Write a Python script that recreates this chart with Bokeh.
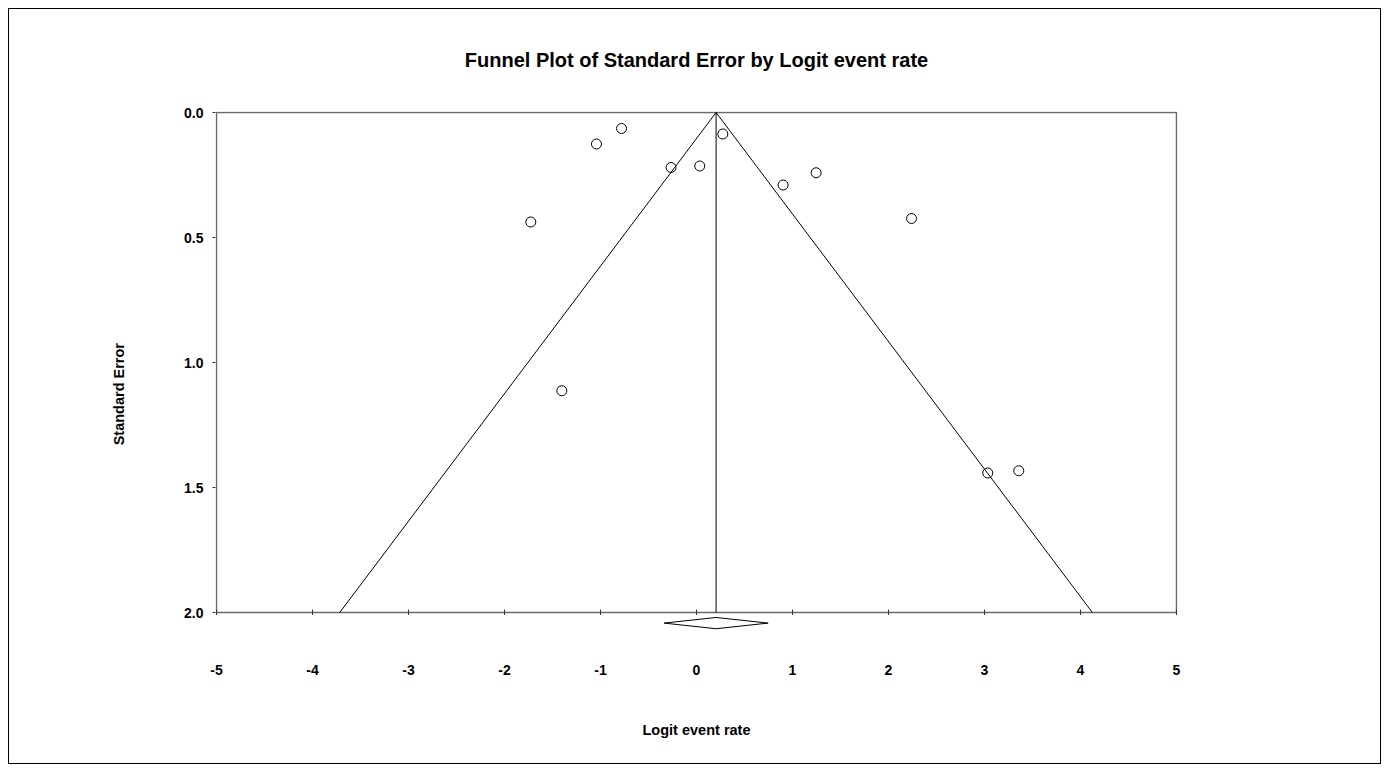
from bokeh.plotting import figure
from bokeh.models import Range1d, FixedTicker, NumeralTickFormatter
from bokeh.embed import file_html
from bokeh.resources import INLINE

# Study data: logit event rate and standard error
logit_rate = [-0.781, -1.042, -0.265, 0.034, 0.274, 0.902, 1.246, -1.726, 2.240, -1.403, 3.034, 3.357]
std_error = [0.064, 0.126, 0.220, 0.214, 0.086, 0.290, 0.241, 0.438, 0.424, 1.113, 1.442, 1.433]

# Pooled estimate and its confidence interval
pooled = 0.204
ci_low = -0.338
ci_high = 0.746
se_max = 2.0
z = 1.96

x_ticks = [-5, -4, -3, -2, -1, 0, 1, 2, 3, 4, 5]
y_ticks = [0.0, 0.5, 1.0, 1.5, 2.0]

FONT = "Liberation Sans"

p = figure(width=1389, height=772, output_backend="svg", toolbar_location=None,
           x_range=Range1d(-5.0104, 5.0104), y_range=Range1d(2.08, -0.004),
           min_border_left=215, min_border_right=212, min_border_top=111, min_border_bottom=140,
           title="Funnel Plot of Standard Error by Logit event rate")

p.styles = {"outline": "1.5px solid black", "outline-offset": "-9.5px"}

p.title.align = "center"
p.title.text_font = FONT
p.title.text_font_size = "20px"
p.title.text_font_style = "bold"
p.title.text_color = "black"
p.title.standoff = 81

p.xgrid.visible = False
p.ygrid.visible = False
p.background_fill_color = None
p.border_fill_color = None
p.outline_line_color = None

# Axes
p.xaxis.ticker = FixedTicker(ticks=x_ticks)
p.xaxis.formatter = NumeralTickFormatter(format="0")
p.yaxis.ticker = FixedTicker(ticks=y_ticks)
p.yaxis.formatter = NumeralTickFormatter(format="0.0")
for ax in (p.xaxis, p.yaxis):
    ax.axis_line_color = None
    ax.minor_tick_line_color = None
    ax.major_tick_line_color = "#333333"
    ax.major_label_text_font = FONT
    ax.major_label_text_font_size = "14px"
    ax.major_label_text_font_style = "bold"
    ax.major_label_text_color = "black"
    ax.axis_label_text_font = FONT
    ax.axis_label_text_font_size = "14.5px"
    ax.axis_label_text_font_style = "bold"
    ax.axis_label_text_color = "black"

p.xaxis.axis_label = "Logit event rate"
p.xaxis.major_tick_line_color = None
p.xaxis.major_tick_in = 0
p.xaxis.major_tick_out = 0
p.xaxis.major_label_standoff = 32
p.xaxis.axis_label_standoff = 44

# trailing no-break spaces push the rotated title slightly below the frame centre
p.yaxis.axis_label = "Standard Error" + "\u00a0" * 11
p.yaxis.major_tick_in = 0
p.yaxis.major_tick_out = 3
p.yaxis.major_label_standoff = 9
p.yaxis.axis_label_standoff = 54

# Plot box
p.quad(left=[x_ticks[0]], right=[x_ticks[-1]], top=[y_ticks[0]], bottom=[y_ticks[-1]],
       fill_color=None, line_color="#6a6a6a", line_width=1.5)

# X tick marks crossing the bottom edge of the box
p.segment(x0=x_ticks, y0=[y_ticks[-1] - 0.012] * len(x_ticks),
          x1=x_ticks, y1=[y_ticks[-1] + 0.010] * len(x_ticks),
          line_color="#333333", line_width=1)

# Funnel (95% pseudo-confidence limits) and pooled line
p.line([pooled - z * se_max, pooled, pooled + z * se_max], [se_max, 0, se_max],
       line_color="black", line_width=1)
p.line([pooled, pooled], [0, se_max], line_color="black", line_width=1)

# Studies
p.scatter(logit_rate, std_error, marker="circle", size=10, fill_color=None,
          line_color="black", line_width=1)

# Diamond for pooled estimate (below the axis)
dy = 2.0424
dh = 0.0225
p.patch([ci_low, pooled, ci_high, pooled], [dy, dy - dh, dy, dy + dh],
        fill_color=None, line_color="black", line_width=1)

open("out.html", "w").write(file_html(p, INLINE))
